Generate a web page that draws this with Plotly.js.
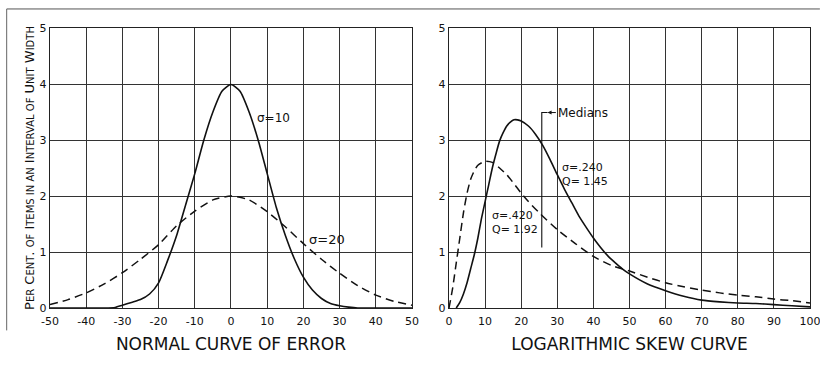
<!DOCTYPE html>
<html>
<head>
<meta charset="utf-8">
<script src="https://cdn.plot.ly/plotly-3.0.1.min.js"></script>
<style>html,body{margin:0;padding:0;background:#fff;}#chart{width:820px;height:368px;}</style>
</head>
<body>
<div id="chart"></div>
<script>
// Left panel: normal curve of error
const normX1 = [-50,-40,-35,-32,-30,-27.5,-25,-22.5,-20,-17.5,-15,-12.5,-10,-7.5,-5,-2.5,0,2.5,5,7.5,10,12.5,15,17.5,20,22.5,25,27.5,30,32.5,35,40,50];
const normSigma10 = [0,0,0,0.01,0.05,0.1,0.15,0.25,0.45,0.85,1.3,1.85,2.4,3.0,3.5,3.87,3.99,3.87,3.5,3.0,2.4,1.8,1.3,0.88,0.55,0.32,0.17,0.08,0.04,0.015,0,0,0];
const normX2 = [-50,-45,-40,-35,-30,-25,-20,-15,-10,-5,0,5,10,15,20,25,30,35,40,45,50];
const normSigma20 = [0.06,0.15,0.27,0.43,0.63,0.87,1.13,1.47,1.73,1.93,2.0,1.93,1.72,1.45,1.15,0.87,0.62,0.40,0.23,0.12,0.05];

// Right panel: logarithmic skew curve
const skewXa = [2,3,4,5,6,7,8,9,10,11,12,13,14,15,16,17,18,19,20,22,24,26,28,30,32,34,36,38,40,42,44,46,48,50,55,60,65,70,75,80,85,90,95,100];
const skewSigma240 = [0,0.1,0.25,0.45,0.7,0.95,1.25,1.6,1.9,2.2,2.5,2.75,2.98,3.13,3.25,3.32,3.36,3.36,3.34,3.25,3.1,2.9,2.65,2.38,2.12,1.88,1.64,1.44,1.25,1.08,0.93,0.81,0.7,0.61,0.43,0.31,0.21,0.14,0.11,0.09,0.08,0.06,0.04,0.02];
const skewXb = [0,1,2,3,4,5,6,7,8,10,12,14,16,18,20,22,25,30,35,40,45,50,55,60,65,70,75,80,85,90,95,100];
const skewSigma420 = [0,0.35,0.8,1.25,1.7,2.05,2.3,2.45,2.55,2.62,2.6,2.5,2.38,2.22,2.05,1.9,1.7,1.4,1.15,0.92,0.76,0.66,0.55,0.45,0.38,0.32,0.27,0.23,0.2,0.16,0.13,0.09];

const medianX = 25.7;
const medianY = [1.08, 3.49];

const xTicks1 = [-50,-40,-30,-20,-10,0,10,20,30,40,50];
const xTicks2 = [0,10,20,30,40,50,60,70,80,90,100];
const yTicks = [0,1,2,3,4,5];

const FONT = 'DejaVu Sans, Liberation Sans, sans-serif';
const INK = '#111';

const traces = [
  {x: normX1, y: normSigma10, xaxis:'x', yaxis:'y', mode:'lines', line:{color:INK, width:1.6, shape:'spline', smoothing:0.6}, hoverinfo:'skip'},
  {x: normX2, y: normSigma20, xaxis:'x', yaxis:'y', mode:'lines', line:{color:INK, width:1.5, dash:'8px,5px', shape:'spline', smoothing:0.6}, hoverinfo:'skip'},
  {x: skewXa, y: skewSigma240, xaxis:'x2', yaxis:'y2', mode:'lines', line:{color:INK, width:1.6, shape:'spline', smoothing:0.6}, hoverinfo:'skip'},
  {x: skewXb, y: skewSigma420, xaxis:'x2', yaxis:'y2', mode:'lines', line:{color:INK, width:1.5, dash:'8px,5px', shape:'spline', smoothing:0.6}, hoverinfo:'skip'},
  {x: [medianX, medianX, medianX+1.6], y: [medianY[0], medianY[1], medianY[1]], xaxis:'x2', yaxis:'y2', mode:'lines', line:{color:INK, width:1.1}, hoverinfo:'skip'}
];

const s = t => "<span style='font-size:10px'>" + t + "</span>";
const yTitle = 'P' + s('ER') + ' C' + s('ENT') + '. ' + s('OF') + ' I' + s('TEMS IN AN') + ' I' + s('NTERVAL OF') + ' U' + s('NIT') + ' W' + s('IDTH');

const axBase = {
  showgrid:true, gridcolor:'#333', gridwidth:1,
  showline:true, linecolor:'#222', linewidth:1.2, mirror:true,
  zeroline:false, ticks:'', fixedrange:true, ticklabeloverflow:'allow',
  tickfont:{family:FONT, size:11, color:INK}
};

const layout = {
  width:820, height:368,
  margin:{l:50, r:10, t:28, b:60},
  paper_bgcolor:'#fff', plot_bgcolor:'#fff',
  showlegend:false,
  font:{family:FONT, color:INK},
  xaxis: Object.assign({}, axBase, {domain:[0,0.4763], range:[-50,50], tickvals:xTicks1, ticktext:xTicks1.map(String), ticklabelstandoff:3,
    title:{text:'NORMAL CURVE OF ERROR', font:{family:FONT, size:17, color:INK}, standoff:10}}),
  yaxis: Object.assign({}, axBase, {range:[0,5], tickvals:yTicks,
    title:{text:yTitle, font:{family:FONT, size:13, color:INK}, standoff:2}}),
  xaxis2: Object.assign({}, axBase, {domain:[0.525,1], range:[0,100], tickvals:xTicks2, anchor:'y2', ticklabelstandoff:3,
    title:{text:'LOGARITHMIC SKEW CURVE', font:{family:FONT, size:17, color:INK}, standoff:10}}),
  yaxis2: Object.assign({}, axBase, {range:[0,5], tickvals:yTicks, anchor:'x2'}),
  annotations:[
    {xref:'x', yref:'y', x:11.8, y:3.4, text:'σ=10', showarrow:false, font:{family:FONT, size:12, color:INK}},
    {xref:'x', yref:'y', x:26.4, y:1.22, text:'σ=20', showarrow:false, font:{family:FONT, size:13, color:INK}},
    {xref:'x2', yref:'y2', x:37.7, y:2.39, text:'σ=.240<br>Q= 1.45', align:'left', showarrow:false, font:{family:FONT, size:11, color:INK}},
    {xref:'x2', yref:'y2', x:18.4, y:1.52, text:'σ=.420<br>Q= 1.92', align:'left', showarrow:false, font:{family:FONT, size:11, color:INK}},
    {xref:'x2', yref:'y2', x:27.3, y:3.49, ax:29.6, ay:3.49, axref:'x2', ayref:'y2', text:'Medians', xanchor:'left', showarrow:true, arrowhead:2, arrowsize:0.8, arrowwidth:1, arrowcolor:INK, font:{family:FONT, size:12, color:INK}}
  ],
  shapes:[
    {type:'line', xref:'paper', yref:'paper', x0:-0.057, x1:1.013, y0:1.068, y1:1.068, line:{color:'#555', width:1}},
    {type:'line', xref:'paper', yref:'paper', x0:-0.057, x1:-0.057, y0:1.068, y1:-0.08, line:{color:'#666', width:1}}
  ]
};

Plotly.newPlot('chart', traces, layout, {staticPlot:true, displayModeBar:false});
</script>
</body>
</html>
